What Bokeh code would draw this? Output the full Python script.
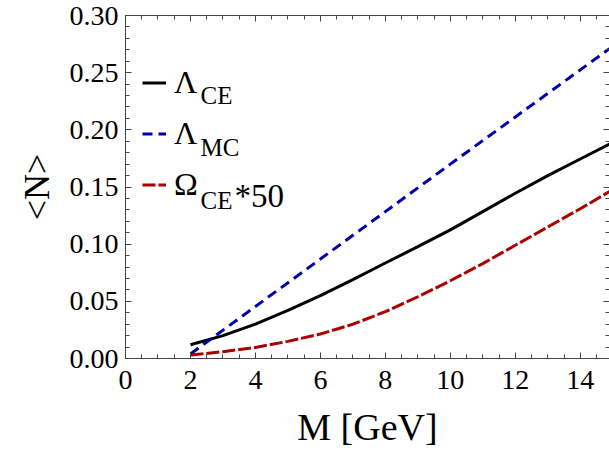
from bokeh.plotting import figure
from bokeh.models import (Range1d, FixedTicker, LinearAxis, Legend, LegendItem,
                          Label, NumeralTickFormatter)
from bokeh.embed import file_html
from bokeh.resources import INLINE

# ---- data ----
m_ce = [2, 3, 4, 5, 6, 7, 8, 9, 10, 11, 12, 13, 14, 14.9]
lambda_ce = [0.012, 0.020, 0.030, 0.042, 0.055, 0.069, 0.0835, 0.0978, 0.1125,
             0.1285, 0.1445, 0.160, 0.1745, 0.1875]
m_mc = [2, 6, 10, 14.9]
lambda_mc = [0.004, 0.087, 0.170, 0.271]
omega_ce50 = [0.003, 0.006, 0.0097, 0.015, 0.0214, 0.030, 0.041, 0.054, 0.068,
              0.083, 0.099, 0.115, 0.131, 0.146]

x_ticks = [0, 2, 4, 6, 8, 10, 12, 14]
x_minor = [i * 0.5 for i in range(0, 30)]
y_ticks = [0.0, 0.05, 0.10, 0.15, 0.20, 0.25, 0.30]
y_minor = [i * 0.01 for i in range(0, 31)]

FONT = "Liberation Serif"
SFONT = "Liberation Serif, Times New Roman, serif"
AX = "#444444"

p = figure(width=609, height=451, x_range=Range1d(0, 14.9), y_range=Range1d(0, 0.30),
           output_backend="svg", toolbar_location=None,
           min_border_left=125, min_border_top=15, min_border_right=0, min_border_bottom=93)
p.grid.visible = False
p.outline_line_color = None
p.background_fill_color = "white"
p.border_fill_color = "white"

r_ce = p.line(m_ce, lambda_ce, line_color="black", line_width=3)
r_mc = p.line(m_mc, lambda_mc, line_color="#0000aa", line_width=3, line_dash="10 6")
r_om = p.line(m_ce, omega_ce50, line_color="#aa0000", line_width=3, line_dash="13 3")

def style(ax, ticks, minor):
    ax.ticker = FixedTicker(ticks=ticks, minor_ticks=minor)
    ax.axis_line_color = AX
    ax.major_tick_line_color = AX
    ax.minor_tick_line_color = AX
    ax.major_tick_in = 6
    ax.major_tick_out = 0
    ax.minor_tick_in = 4
    ax.minor_tick_out = 0

xa = p.xaxis[0]
ya = p.yaxis[0]
style(xa, x_ticks, x_minor)
style(ya, y_ticks, y_minor)
ya.formatter = NumeralTickFormatter(format="0.00")
for ax in (xa, ya):
    ax.major_label_text_font = SFONT
    ax.major_label_text_font_size = "28px"
    ax.major_label_text_font_style = "normal"
    ax.major_label_text_color = "black"
    ax.axis_label_text_font = FONT
    ax.axis_label_text_font_style = "normal"
    ax.axis_label_text_color = "black"
xa.axis_label_text_font_size = "38px"
ya.axis_label_text_font_size = "36px"
xa.axis_label = "M [GeV]"
ya.axis_label = "<N>"
xa.major_label_standoff = 12
xa.axis_label_standoff = 14
ya.major_label_standoff = 7
ya.axis_label_standoff = 10

top = LinearAxis()
right = LinearAxis()
style(top, x_ticks, x_minor)
style(right, y_ticks, y_minor)
top.major_label_overrides = {t: "" for t in x_ticks}
right.major_label_overrides = {t: "" for t in y_ticks}
for ax in (top, right):
    ax.major_label_text_font_size = "1px"
    ax.major_label_standoff = 0
    ax.axis_label_standoff = 0
p.add_layout(top, "above")
p.add_layout(right, "right")

legend = Legend(items=[LegendItem(label="Λ", renderers=[r_ce]),
                       LegendItem(label="Λ", renderers=[r_mc]),
                       LegendItem(label="Ω", renderers=[r_om])],
                location=(17, 151), glyph_width=24, glyph_height=45, label_height=45,
                label_standoff=8, spacing=6, padding=0, margin=0,
                border_line_color=None, background_fill_alpha=0,
                label_text_font=SFONT, label_text_font_style="normal",
                label_text_font_size="32px", label_text_color="black")
p.add_layout(legend)

def lab(x, y, t, size):
    p.add_layout(Label(x=x, y=y, x_units="screen", y_units="screen", text=t,
                       text_font=SFONT, text_font_style="normal",
                       text_font_size=size, text_color="black",
                       text_baseline="alphabetic"))

lab(75, 263, "CE", "25px")
lab(75, 211, "MC", "25px")
lab(75, 158, "CE", "25px")
lab(109, 163, "*50", "33px")

open("out.html", "w").write(file_html(p, INLINE))
